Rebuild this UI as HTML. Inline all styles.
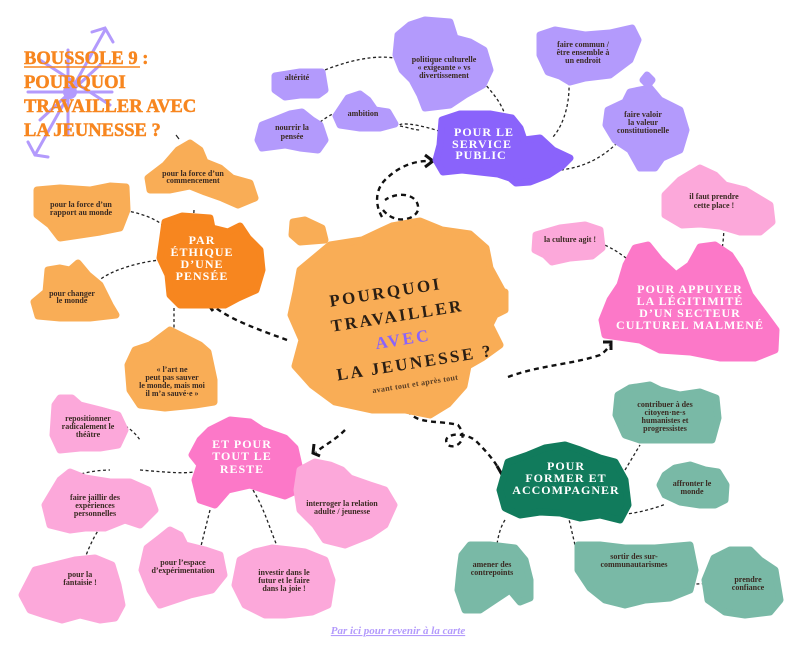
<!DOCTYPE html>
<html><head><meta charset="utf-8"><style>
body{margin:0;background:#fff}
svg{display:block}
text{font-family:"Liberation Serif",serif;font-weight:bold}
.s{font-size:8px;fill:#3a2a22;text-anchor:middle}
.w{fill:#fff;text-anchor:middle;font-size:12px;letter-spacing:1px}
.d{fill:none;stroke:#222;stroke-width:1.3;stroke-dasharray:3,2.5}
.a{fill:none;stroke:#111;stroke-width:2.4;stroke-dasharray:5,4}
polygon{stroke-linejoin:round;stroke-width:7}
</style></head><body>
<svg width="797" height="645" viewBox="0 0 797 645" xmlns="http://www.w3.org/2000/svg">
<!-- compass -->
<g stroke="#b39afc" stroke-width="3" fill="none" stroke-linecap="round">
<line x1="35" y1="155" x2="105" y2="30"/><line x1="40" y1="60" x2="110" y2="105"/><line x1="28" y1="92" x2="112" y2="92"/><line x1="68" y1="50" x2="68" y2="135"/><line x1="40" y1="120" x2="100" y2="65"/>
<polyline points="92,32 105,28 113,42"/><polyline points="28,142 35,155 48,157"/>
</g>
<circle cx="70" cy="92" r="7" fill="#b39afc"/>
<g fill="#f7861f" font-size="18.5" stroke="#f7861f" stroke-width="0.5">
<text x="24" y="64">BOUSSOLE 9 :</text>
<text x="24" y="88">POURQUOI</text>
<text x="24" y="112">TRAVAILLER AVEC</text>
<text x="24" y="136">LA JEUNESSE ?</text>
</g>
<line x1="24" y1="67" x2="140" y2="67" stroke="#f7861f" stroke-width="1.5"/>
<line x1="176" y1="135" x2="179" y2="139" stroke="#222" stroke-width="1.2"/>

<!-- connectors thin -->
<path class="d" d="M320,72 C360,55 390,55 400,60"/>
<path class="d" d="M320,122 C330,115 335,112 340,112"/>
<path class="d" d="M483,82 C495,95 502,105 505,115"/>
<path class="d" d="M569,82 C570,110 560,130 552,138"/>
<path class="d" d="M617,143 C600,160 580,168 560,170"/>
<path class="d" d="M400,126 C410,128 415,130 420,130"/>
<path class="d" d="M455,138 C430,125 400,122 400,125"/>
<path class="d" d="M194,210 L193,228"/>
<path class="d" d="M120,210 C140,212 160,220 168,230"/>
<path class="d" d="M97,282 C110,270 140,262 160,260"/>
<path class="d" d="M174,308 L174,335"/>
<path class="d" d="M600,243 C612,248 618,252 626,258"/>
<path class="d" d="M724,222 C724,240 722,255 717,268"/>
<path class="d" d="M83,417 C110,415 130,425 140,440"/>
<path class="d" d="M66,480 C80,472 100,470 110,470"/>
<path class="d" d="M140,470 C165,472 190,475 200,470"/>
<path class="d" d="M81,570 C95,525 110,515 122,508"/>
<path class="d" d="M210,510 L200,550"/>
<path class="d" d="M253,490 C265,510 270,530 278,548"/>
<path class="d" d="M297,475 L305,482"/>
<path class="d" d="M625,470 L640,445"/>
<path class="d" d="M618,514 C630,515 650,510 666,504"/>
<path class="d" d="M505,520 C495,535 497,560 492,565"/>
<path class="d" d="M568,515 L575,545"/>
<path class="d" d="M660,575 C670,585 690,585 712,583"/>

<!-- big arrows -->
<path class="a" d="M287,340 C260,330 230,320 212,305"/>
<polyline points="216,297 205,300 213,311" fill="none" stroke="#111" stroke-width="3"/>
<path class="a" d="M382,217 C375,205 375,190 385,180 C395,170 410,160 432,161"/>
<path class="a" d="M383,210 C395,225 415,220 418,210 C420,195 400,190 385,200"/>
<polyline points="425,155 433,161 425,167" fill="none" stroke="#111" stroke-width="3"/>
<path class="a" d="M508,377 C540,365 570,365 600,355 C605,352 608,348 610,345"/>
<polyline points="603,342 611,342 611,350" fill="none" stroke="#111" stroke-width="3"/>
<path class="a" d="M408,410 C415,425 440,420 458,425 C470,440 455,450 448,445 C440,435 460,430 475,440 C490,455 498,465 503,478"/>
<polyline points="497,466 504,478 510,465" fill="none" stroke="#111" stroke-width="3"/>
<path class="a" d="M345,430 C335,440 325,445 316,452"/>
<polyline points="314,444 313,453 320,456" fill="none" stroke="#111" stroke-width="3"/>

<!-- orange -->
<polygon fill="#f9ad56" stroke="#f9ad56" points="300,270 330,245 362,240 392,226 420,221 442,230 470,234 486,248 490,268 502,290 500,305 490,325 500,345 482,358 468,366 464,386 448,404 430,415 405,410 372,410 335,402 312,385 295,366 302,340 291,315 296,292"/>
<polygon fill="#f9ad56" stroke="#f9ad56" points="293,222 305,220 322,228 325,240 300,242 292,235"/>
<polygon fill="#f9ad56" stroke="#f9ad56" points="494,296 505,292 505,310 497,314"/>
<polygon fill="#f7861f" stroke="#f7861f" points="165,222 182,216 210,218 212,228 228,232 240,226 248,238 260,250 262,270 256,290 238,298 225,305 205,305 180,305 170,295 168,275 160,258"/>
<polygon fill="#f9ad56" stroke="#f9ad56" points="148,178 165,165 178,150 190,143 200,150 205,162 220,168 232,178 250,183 255,198 238,205 222,198 205,192 190,186 170,190 150,190"/>
<polygon fill="#f9ad56" stroke="#f9ad56" points="37,190 60,188 90,190 110,186 126,187 127,210 120,228 100,232 80,235 60,238 50,225 37,215"/>
<polygon fill="#f9ad56" stroke="#f9ad56" points="48,270 60,268 70,270 78,263 88,275 100,285 110,305 116,315 90,318 60,318 38,316 34,302 46,292"/>
<polygon fill="#f9ad56" stroke="#f9ad56" points="135,350 150,345 170,330 180,335 190,340 200,345 208,352 214,380 214,402 195,405 165,408 140,405 130,390 128,365"/>

<!-- purple -->
<polygon fill="#b39afc" stroke="#b39afc" points="275,76 300,72 322,72 325,90 318,95 300,95 285,97 275,90"/>
<polygon fill="#b39afc" stroke="#b39afc" points="340,110 348,98 360,94 368,100 375,110 388,112 395,124 380,128 360,128 340,125 336,116"/>
<polygon fill="#b39afc" stroke="#b39afc" points="262,125 275,120 290,114 302,112 312,120 320,125 325,140 318,150 300,148 285,145 262,148 258,140"/>
<polygon fill="#b39afc" stroke="#b39afc" points="398,35 410,25 425,20 450,22 455,38 470,42 484,50 490,70 483,85 465,95 450,105 425,108 420,95 412,80 402,70 396,55"/>
<polygon fill="#b39afc" stroke="#b39afc" points="540,35 555,30 585,35 610,33 632,28 638,40 630,60 610,75 585,78 570,82 560,76 548,72 540,55"/>
<polygon fill="#b39afc" stroke="#b39afc" points="608,110 625,102 630,92 650,88 660,100 680,110 686,130 680,150 662,158 655,168 640,168 630,150 615,140 606,125"/>
<polygon fill="#b39afc" stroke="#b39afc" points="647,75 652,80 648,85 643,80"/>
<polygon fill="#8a63fb" stroke="#8a63fb" points="442,120 460,114 490,114 512,118 520,128 524,140 540,138 553,150 570,158 562,166 548,175 530,182 516,183 510,178 498,174 480,172 462,170 443,172 436,160 440,145"/>

<!-- pink right -->
<polygon fill="#fca8da" stroke="#fca8da" points="536,235 560,228 585,225 600,230 602,248 592,256 570,258 552,262 545,255 535,250"/>
<polygon fill="#fca8da" stroke="#fca8da" points="665,195 680,180 700,168 715,175 725,185 745,190 770,205 772,222 760,232 740,232 720,226 700,224 682,225 665,215"/>
<polygon fill="#fc78c8" stroke="#fc78c8" points="626,265 635,248 648,245 660,260 676,275 690,265 700,247 715,245 730,255 740,270 750,295 765,315 776,330 775,350 755,358 720,358 690,352 660,350 640,340 605,335 602,320 610,300 620,285"/>

<!-- pink left -->
<polygon fill="#fc78c8" stroke="#fc78c8" points="210,430 230,420 250,422 262,430 285,438 295,448 300,470 298,490 285,496 265,490 250,485 228,490 215,505 200,500 195,480 200,465 192,455 200,440"/>
<polygon fill="#fca8da" stroke="#fca8da" points="55,405 60,398 72,398 80,405 100,410 118,415 125,430 118,445 100,448 80,448 60,450 53,435"/>
<polygon fill="#fca8da" stroke="#fca8da" points="60,480 70,472 85,478 110,482 130,482 148,490 155,510 140,525 125,520 105,528 85,528 70,530 50,525 45,505"/>
<polygon fill="#fca8da" stroke="#fca8da" points="35,570 55,565 75,560 95,558 112,565 118,585 122,605 115,618 100,620 80,615 62,620 45,615 30,610 22,595"/>
<polygon fill="#fca8da" stroke="#fca8da" points="147,548 160,538 170,530 180,535 185,545 205,550 220,555 224,575 212,590 190,595 175,600 160,605 150,590 142,570"/>
<polygon fill="#fca8da" stroke="#fca8da" points="240,560 255,552 272,548 290,550 305,552 325,560 332,580 328,605 312,612 285,615 265,615 245,605 235,585"/>
<polygon fill="#fca8da" stroke="#fca8da" points="300,470 315,462 330,465 342,470 350,478 370,485 385,490 394,505 385,525 370,535 345,545 325,540 315,525 300,510 297,490"/>

<!-- teal -->
<polygon fill="#117b5c" stroke="#117b5c" points="508,462 528,455 545,448 565,445 580,450 600,458 615,462 625,480 628,505 620,520 600,515 580,518 560,513 540,512 520,515 505,508 500,490"/>
<polygon fill="#79b9a6" stroke="#79b9a6" points="618,395 630,388 650,385 660,390 680,395 700,392 716,398 718,418 712,440 690,440 665,440 640,440 625,435 616,415"/>
<polygon fill="#79b9a6" stroke="#79b9a6" points="665,475 675,468 690,465 705,470 718,472 726,485 725,500 715,505 700,505 680,502 665,495 660,485"/>
<polygon fill="#79b9a6" stroke="#79b9a6" points="462,555 470,545 490,545 515,548 525,560 530,580 530,598 520,602 510,590 495,600 480,610 465,610 458,590 460,570"/>
<polygon fill="#79b9a6" stroke="#79b9a6" points="578,545 600,545 625,548 655,548 690,545 695,570 690,590 670,598 645,600 625,605 605,600 590,588 578,570"/>
<polygon fill="#79b9a6" stroke="#79b9a6" points="714,558 730,550 750,550 760,560 775,570 780,600 770,612 745,615 725,612 708,600 705,580"/>

<!-- labels -->
<text class="s" x="297" y="80">altérité</text>
<text class="s" x="363" y="116">ambition</text>
<text class="s" x="292" y="130">nourrir la</text><text class="s" x="292" y="139">pensée</text>
<text class="s" x="444" y="62">politique culturelle</text><text class="s" x="444" y="70">« exigeante » vs</text><text class="s" x="444" y="78">divertissement</text>
<text class="s" x="583" y="47">faire commun /</text><text class="s" x="583" y="55">être ensemble à</text><text class="s" x="583" y="63">un endroit</text>
<text class="s" x="643" y="117">faire valoir</text><text class="s" x="643" y="125">la valeur</text><text class="s" x="643" y="133">constitutionelle</text>
<text class="w" x="484" y="136">POUR LE</text><text class="w" x="482" y="148">SERVICE</text><text class="w" x="481" y="159">PUBLIC</text>
<text class="s" x="570" y="242">la culture agit !</text>
<text class="s" x="714" y="199">il faut prendre</text><text class="s" x="714" y="208">cette place !</text>
<text class="w" x="690" y="293">POUR APPUYER</text><text class="w" x="690" y="305">LA LÉGITIMITÉ</text><text class="w" x="690" y="317">D’UN SECTEUR</text><text class="w" x="690" y="329">CULTUREL MALMENÉ</text>
<text class="w" x="202" y="244">PAR</text><text class="w" x="202" y="256">ÉTHIQUE</text><text class="w" x="202" y="268">D’UNE</text><text class="w" x="202" y="280">PENSÉE</text>
<text class="s" x="193" y="176">pour la force d’un</text><text class="s" x="193" y="183">commencement</text>
<text class="s" x="81" y="207">pour la force d’un</text><text class="s" x="81" y="215">rapport au monde</text>
<text class="s" x="72" y="296">pour changer</text><text class="s" x="72" y="303">le monde</text>
<text class="s" x="172" y="372">« l’art ne</text><text class="s" x="172" y="380">peut pas sauver</text><text class="s" x="172" y="388">le monde, mais moi</text><text class="s" x="172" y="396">il m’a sauvé·e »</text>
<g transform="rotate(-9 400 320)" fill="#2a1e14" text-anchor="middle" font-size="17" letter-spacing="2.5">
<text x="390" y="296">POURQUOI</text>
<text x="398" y="321">TRAVAILLER</text>
<text x="400" y="345" fill="#8a63fb">AVEC</text>
<text x="408" y="370">LA JEUNESSE ?</text>
<text x="405" y="388" font-size="8" letter-spacing="0.3" fill="#5a3e24">avant tout et après tout</text>
</g>
<text class="w" x="242" y="448">ET POUR</text><text class="w" x="242" y="460">TOUT LE</text><text class="w" x="242" y="473">RESTE</text>
<text class="s" x="88" y="421">repositionner</text><text class="s" x="88" y="429">radicalement le</text><text class="s" x="88" y="437">théâtre</text>
<text class="s" x="95" y="500">faire jaillir des</text><text class="s" x="95" y="508">expériences</text><text class="s" x="95" y="516">personnelles</text>
<text class="s" x="80" y="577">pour la</text><text class="s" x="80" y="585">fantaisie !</text>
<text class="s" x="183" y="565">pour l’espace</text><text class="s" x="183" y="573">d’expérimentation</text>
<text class="s" x="284" y="575">investir dans le</text><text class="s" x="284" y="583">futur et le faire</text><text class="s" x="284" y="591">dans la joie !</text>
<text class="s" x="342" y="506">interroger la relation</text><text class="s" x="342" y="514">adulte / jeunesse</text>
<text class="w" x="566" y="470">POUR</text><text class="w" x="566" y="482">FORMER ET</text><text class="w" x="566" y="494">ACCOMPAGNER</text>
<text class="s" x="665" y="407">contribuer à des</text><text class="s" x="665" y="415">citoyen·ne·s</text><text class="s" x="665" y="423">humanistes et</text><text class="s" x="665" y="431">progressistes</text>
<text class="s" x="692" y="486">affronter le</text><text class="s" x="692" y="494">monde</text>
<text class="s" x="492" y="567">amener des</text><text class="s" x="492" y="575">contrepoints</text>
<text class="s" x="634" y="559">sortir des sur-</text><text class="s" x="634" y="567">communautarismes</text>
<text class="s" x="748" y="582">prendre</text><text class="s" x="748" y="590">confiance</text>
<text x="398" y="634" text-anchor="middle" font-size="11" font-style="italic" fill="#b39afc" text-decoration="underline">Par ici pour revenir à la carte</text>
</svg>
</body></html>
